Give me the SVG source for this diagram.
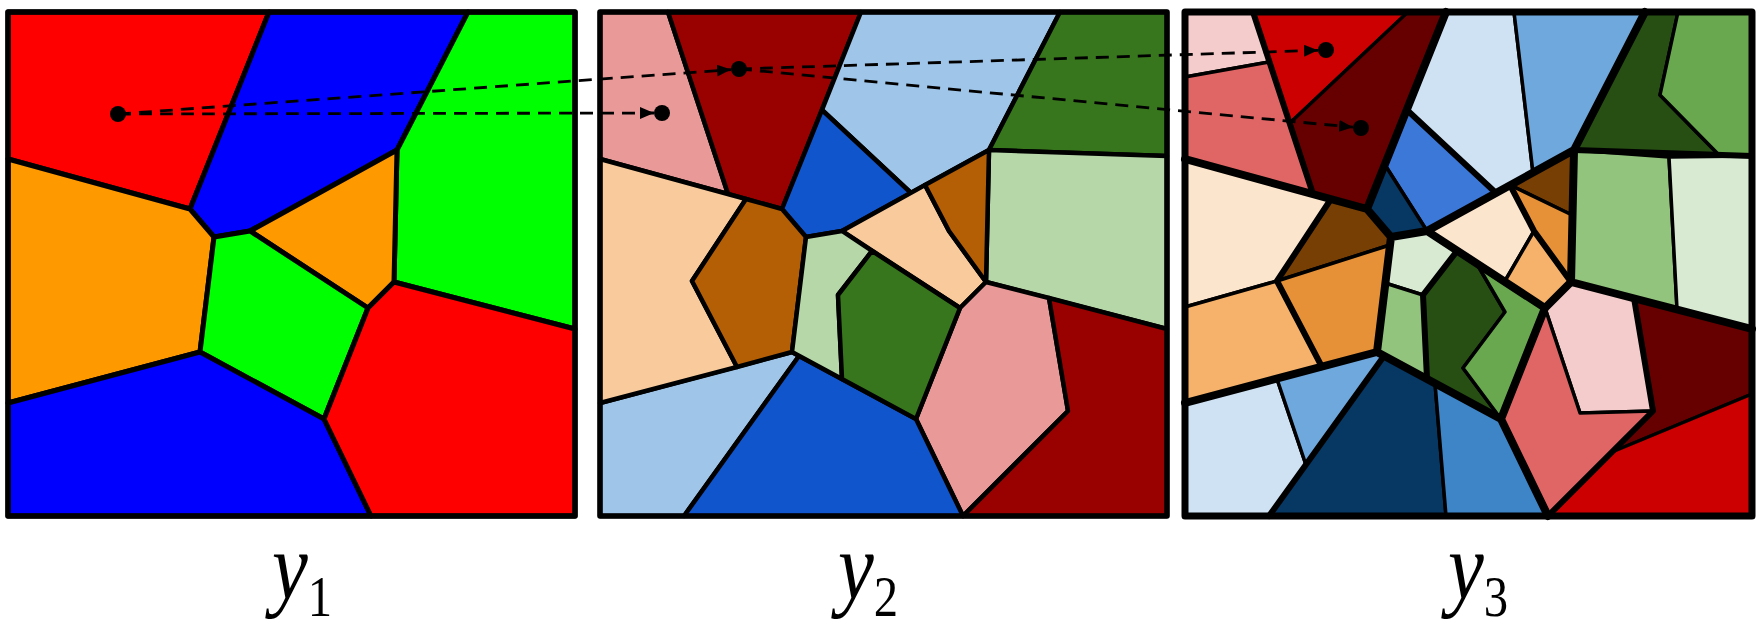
<svg xmlns="http://www.w3.org/2000/svg" width="1760" height="631" viewBox="0 0 1760 631">
<style>
.p1 polygon{stroke:#000;stroke-width:5;stroke-linejoin:round}
.p2 polygon{stroke:#000;stroke-width:4.5;stroke-linejoin:round}
.p3 polygon{stroke:#000;stroke-width:3.5;stroke-linejoin:round}
.frame{fill:none;stroke:#000;stroke-width:5.5;stroke-linejoin:round}
.l1{fill:none;stroke:#000;stroke-width:8;stroke-linecap:round;stroke-linejoin:round}
.l2{fill:none;stroke:#000;stroke-width:6;stroke-linecap:round;stroke-linejoin:round}
.dash{fill:none;stroke:#000;stroke-width:2.8;stroke-dasharray:13 8}
.lab{font-family:"Liberation Serif","Times New Roman",serif;font-style:italic;font-size:96px;fill:#000}
.sub{font-style:normal;font-size:58px}
</style>
<defs>
<marker id="ah" markerUnits="userSpaceOnUse" markerWidth="14" markerHeight="12" refX="14" refY="6" orient="auto">
<path d="M0,0 L14,6 L0,12 z" fill="#000"/>
</marker>
</defs>
<rect width="1760" height="631" fill="#fff"/>

<g id="panel1" class="p1">
<polygon fill="#FF0000" points="8,12 269,12 190,209 8,159"/>
<polygon fill="#0000FF" points="269,12 468,12 397,150 250,231 214,237 190,209"/>
<polygon fill="#00FF00" points="468,12 575,12 575,329 394,282 397,150"/>
<polygon fill="#FF9900" points="8,159 190,209 214,237 200,352 8,403"/>
<polygon fill="#FF9900" points="250,231 397,150 394,282 368,308"/>
<polygon fill="#00FF00" points="214,237 250,231 368,308 324,419 200,352"/>
<polygon fill="#0000FF" points="8,403 200,352 324,419 371,516 8,516"/>
<polygon fill="#FF0000" points="324,419 368,308 394,282 575,329 575,516 371,516"/>
<rect class="frame" x="8" y="12" width="567" height="504"/>
</g>

<g id="panel2" class="p2" transform="translate(592,0)">
<polygon fill="#EA9999" points="8,12 76,12 136,194 8,159"/>
<polygon fill="#990000" points="76,12 269,12 190,209 136,194"/>
<polygon fill="#9FC5E8" points="269,12 468,12 397,150 319,193 230,110"/>
<polygon fill="#1155CC" points="230,110 319,193 250,231 214,237 190,209"/>
<polygon fill="#38761D" points="468,12 575,12 575,156 397,150"/>
<polygon fill="#B6D7A8" points="397,150 575,156 575,329 394,282"/>
<polygon fill="#F9CB9C" points="250,231 333,185 357,231 394,282 368,308"/>
<polygon fill="#B45F06" points="333,185 397,150 394,282 357,231"/>
<polygon fill="#EA9999" points="368,308 394,282 457,298 476,411 371,516 324,419"/>
<polygon fill="#990000" points="457,298 575,329 575,516 371,516 476,411"/>
<polygon fill="#9FC5E8" points="8,403 200,352 207,356 92,516 8,516"/>
<polygon fill="#1155CC" points="207,356 324,419 371,516 92,516"/>
<polygon fill="#F9CB9C" points="8,159 154,199 100,281 145,367 8,403"/>
<polygon fill="#B45F06" points="154,199 190,209 214,237 200,352 145,367 100,281"/>
<polygon fill="#B6D7A8" points="214,237 250,231 280,251 246,295 250,379 200,352"/>
<polygon fill="#38761D" points="280,251 368,308 324,419 250,379 246,295"/>
<rect class="frame" x="8" y="12" width="567" height="504"/>
</g>

<g id="panel3" class="p3" transform="translate(1177,0)">
<polygon fill="#F4CCCC" points="8,12 76,12 92,62 8,77"/>
<polygon fill="#E06666" points="8,77 92,62 136,194 8,159"/>
<polygon fill="#CC0000" points="76,12 231,12 113,123"/>
<polygon fill="#660000" points="231,12 269,12 190,209 136,194 113,123"/>
<polygon fill="#CFE2F3" points="269,12 337,12 356,173 319,193 230,110"/>
<polygon fill="#6FA8DC" points="337,12 468,12 397,150 356,173"/>
<polygon fill="#3C78D8" points="230,110 319,193 250,231 208,165"/>
<polygon fill="#073763" points="208,165 250,231 214,237 190,209"/>
<polygon fill="#274E13" points="468,12 501,12 483,95 543,156 397,150"/>
<polygon fill="#6AA84F" points="501,12 575,12 575,156 543,156 483,95"/>
<polygon fill="#93C47D" points="397,150 492,157 500,309 394,282"/>
<polygon fill="#D9EAD3" points="492,157 575,156 575,329 500,309"/>
<polygon fill="#FCE5CD" points="250,231 333,185 357,231 328,281"/>
<polygon fill="#F6B26B" points="357,231 394,282 368,308 328,281"/>
<polygon fill="#783F04" points="333,185 397,150 395,215"/>
<polygon fill="#E69138" points="333,185 395,215 394,282 357,231"/>
<polygon fill="#F4CCCC" points="368,308 394,282 457,298 476,411 403,413"/>
<polygon fill="#E06666" points="368,308 403,413 476,411 371,516 324,419"/>
<polygon fill="#660000" points="457,298 575,329 575,394 435,452 476,411"/>
<polygon fill="#CC0000" points="435,452 575,394 575,516 371,516"/>
<polygon fill="#274E13" points="280,251 300,264 328,312 286,368 324,419 250,379 246,295"/>
<polygon fill="#6AA84F" points="300,264 368,308 324,419 286,368 328,312"/>
<polygon fill="#D9EAD3" points="214,237 250,231 280,251 246,295 208,283"/>
<polygon fill="#93C47D" points="208,283 246,295 250,379 200,352"/>
<polygon fill="#FCE5CD" points="8,159 154,199 100,281 8,307"/>
<polygon fill="#F6B26B" points="8,307 100,281 145,367 8,403"/>
<polygon fill="#783F04" points="154,199 190,209 214,237 213,245 100,281"/>
<polygon fill="#E69138" points="100,281 213,245 200,352 145,367"/>
<polygon fill="#CFE2F3" points="8,403 100,379 129,465 92,516 8,516"/>
<polygon fill="#6FA8DC" points="100,379 200,352 207,356 129,465"/>
<polygon fill="#073763" points="207,356 258,383 269,516 92,516"/>
<polygon fill="#3D85C6" points="258,383 324,419 371,516 269,516"/>
<path class="l2" d="M76,12 L136,194 M230,110 L319,193 M397,150 L575,156 M333,185 L357,231 L394,282 M457,298 L476,411 L371,516 M207,356 L92,516 M154,199 L100,281 L145,367 M280,251 L246,295 L250,379"/>
<path class="l1" d="M269,12 L190,209 M468,12 L397,150 M8,159 L190,209 L214,237 L250,231 L397,150 L394,282 L575,329 M394,282 L368,308 M250,231 L368,308 L324,419 L371,516 M214,237 L200,352 L324,419 M8,403 L200,352"/>
<rect class="frame" style="stroke-width:7" x="8" y="12" width="567" height="504"/>
</g>

<g id="connectors">
<path class="dash" d="M118,114 L654,113" marker-end="url(#ah)"/>
<path class="dash" d="M118,114 L731,69.6" marker-end="url(#ah)"/>
<path class="dash" d="M739,69 L1318,50.3" marker-end="url(#ah)"/>
<path class="dash" d="M739,69 L1353,127.2" marker-end="url(#ah)"/>
<circle cx="118" cy="114" r="8" fill="#000"/>
<circle cx="662" cy="113" r="8" fill="#000"/>
<circle cx="739" cy="69" r="8" fill="#000"/>
<circle cx="1326" cy="50" r="8" fill="#000"/>
<circle cx="1361" cy="128" r="8" fill="#000"/>
</g>

<g id="labels">
<text class="lab" transform="translate(272,599) scale(0.84,1)">y<tspan class="sub" dy="17">1</tspan></text>
<text class="lab" transform="translate(838,599) scale(0.84,1)">y<tspan class="sub" dy="17">2</tspan></text>
<text class="lab" transform="translate(1448,599) scale(0.84,1)">y<tspan class="sub" dy="17">3</tspan></text>
</g>
</svg>
